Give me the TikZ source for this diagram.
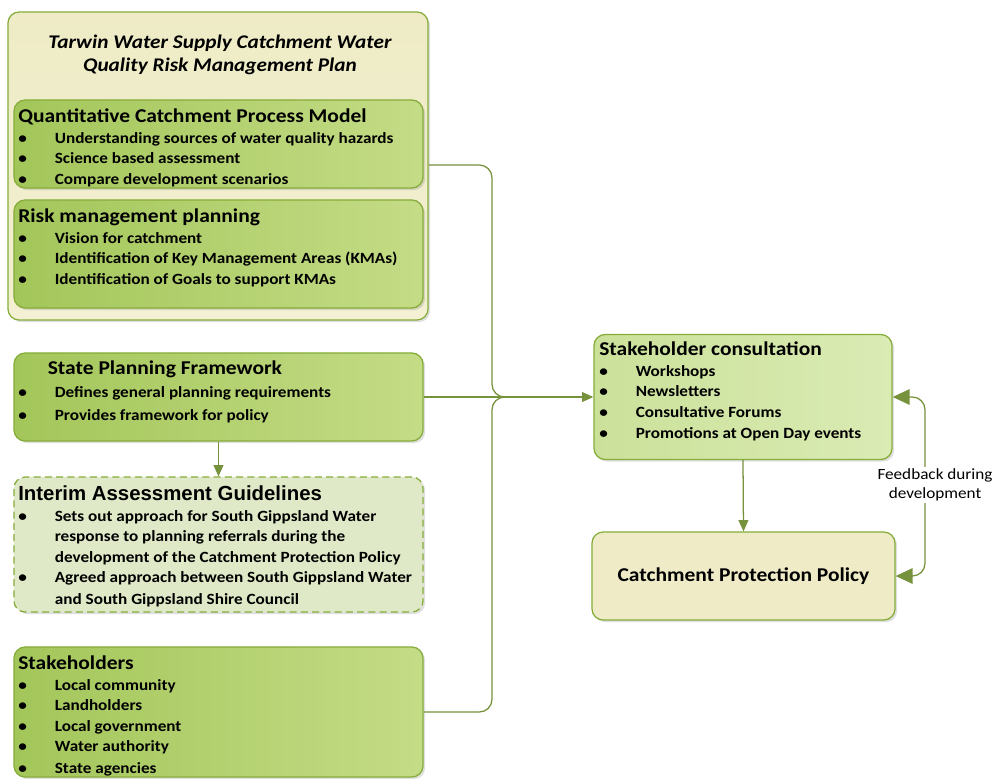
\documentclass[tikz,border=0pt]{standalone}
\usepackage{fontspec}
\setmainfont[FakeStretch=1.1]{Carlito}
\newfontfamily\arialfont{Liberation Sans}
\usetikzlibrary{positioning,calc,arrows.meta,shadows}
\definecolor{linegreen}{HTML}{76923C}
\definecolor{boxedge}{HTML}{86AD3A}
\definecolor{greendark}{HTML}{A3C65A}
\definecolor{greenlight}{HTML}{C4DC86}
\definecolor{palegreen}{HTML}{DFE9C7}
\definecolor{softgreen}{HTML}{CBE19A}
\definecolor{softgreenlight}{HTML}{DAEBB4}
\definecolor{beige}{HTML}{EEEBC6}
\definecolor{beigelight}{HTML}{F3F0D3}

% bullet lines
\newcommand{\head}[1]{{\fontsize{13.9}{16}\selectfont #1}}
\newcommand{\bul}[1]{\makebox[26pt][l]{\textbullet}#1}
\newcommand{\cont}[1]{\hspace*{26pt}#1}

\begin{document}
\begin{tikzpicture}[x=0.025cm, y=-0.025cm,
  box/.style={draw=boxedge, line width=0.9pt, rounded corners=8pt, inner sep=0pt,
    drop shadow={opacity=0.25, shadow xshift=1.5pt, shadow yshift=-1.5pt}},
  planbox/.style={box, top color=beige, bottom color=beigelight},
  greenbox/.style={box, left color=greendark, right color=greenlight},
  dashbox/.style={box, dashed, dash pattern=on 5pt off 3pt, fill=palegreen},
  consultbox/.style={box, left color=softgreen, right color=softgreenlight},
  policybox/.style={box, fill=beige},
  listtext/.style={anchor=north west, inner sep=0pt, align=left,
    font=\fontsize{11.1}{14.4}\selectfont\bfseries},
  link/.style={draw=linegreen, line width=0.9pt},
  tip/.style={-{Triangle[length=8pt, width=7pt]}},
  bigtip/.style={{Triangle[length=12pt, width=11pt]}-{Triangle[length=12pt, width=11pt]}}]

  \useasboundingbox (0,0) rectangle (995,778);

  % Risk management plan and its two parts
  \node[planbox, minimum width=10.5cm, minimum height=7.7cm] (plan) at (218,166) {};
  \node[align=center, font=\fontsize{13.75}{16.5}\selectfont\bfseries\itshape] (plantitle) at (220,55)
    {Tarwin Water Supply Catchment Water\\Quality Risk Management Plan};

  \node[greenbox, minimum width=10.225cm, minimum height=2.2cm] (qcpm) at (218.5,144) {};
  \node[listtext] (qcpmtext) at (18,108) {%
    \head{Quantitative Catchment Process Model}\\[1pt]
    \bul{Understanding sources of water quality hazards}\\
    \bul{Science based assessment}\\
    \bul{Compare development scenarios}};

  \node[greenbox, minimum width=10.225cm, minimum height=2.7cm] (rmp) at (218.5,254) {};
  \node[listtext] (rmptext) at (18,208) {%
    \head{Risk management planning}\\[1pt]
    \bul{Vision for catchment}\\
    \bul{Identification of Key Management Areas (KMAs)}\\
    \bul{Identification of Goals to support KMAs}};

  % State planning framework
  \node[greenbox, minimum width=10.225cm, minimum height=2.2cm] (spf) at (218.5,397) {};
  \node[listtext] (spftext) at (18,360) {%
    \hspace*{21pt}\head{State Planning Framework}\\[2pt]
    \bul{Defines general planning requirements}\\[2pt]
    \bul{Provides framework for policy}};

  % Interim guidelines (dashed)
  \node[dashbox, minimum width=10.225cm, minimum height=3.375cm] (iag) at (218.5,544.5) {};
  \node[listtext] (iagtext) at (18,485) {%
    {\arialfont\fontsize{14.5}{15}\selectfont Interim Assessment Guidelines}\\[1pt]
    \bul{Sets out approach for South Gippsland Water}\\
    \cont{response to planning referrals during the}\\
    \cont{development of the Catchment Protection Policy}\\
    \bul{Agreed approach between South Gippsland Water}\\[1pt]
    \cont{and South Gippsland Shire Council}};

  % Stakeholders
  \node[greenbox, minimum width=10.225cm, minimum height=3.25cm] (stk) at (218.5,712) {};
  \node[listtext] (stktext) at (18,655) {%
    \head{Stakeholders}\\[1pt]
    \bul{Local community}\\
    \bul{Landholders}\\
    \bul{Local government}\\
    \bul{Water authority}\\[1pt]
    \bul{State agencies}};

  % Consultation and policy
  \node[consultbox, minimum width=7.45cm, minimum height=3.125cm] (sc) at (743,397) {};
  \node[listtext] (sctext) at (599,341) {%
    \head{Stakeholder consultation}\\[1pt]
    \bul{Workshops}\\
    \bul{Newsletters}\\
    \bul{Consultative Forums}\\[1pt]
    \bul{Promotions at Open Day events}};

  \node[policybox, minimum width=7.575cm, minimum height=2.2cm,
    font=\fontsize{13.9}{16}\selectfont\bfseries] (cpp) at (743.5,576) {Catchment Protection Policy};

  % Connectors into the consultation box
  \coordinate (qout) at (plan.east |- 0,165);
  \coordinate (join) at (492,397);
  \draw[link, rounded corners=9pt] (qout) -- (join |- qout) -- (join) -- ++(20,0);
  \draw[link, rounded corners=9pt] (stk.east) -- (join |- stk.east) -- (join) -- ++(20,0);
  \draw[link, tip] (spf.east) -- (sc.west);
  \draw[link, tip] (spf.south) -- (iag.north);
  \draw[link, tip] (sc.south) -- (cpp.north);

  % Feedback loop
  \coordinate (fb) at (925,397);
  \draw[link, bigtip, rounded corners=9pt] (sc.east) -- (fb) -- (fb |- cpp.east) -- (cpp.east);
  \node[fill=white, inner sep=1pt, align=center, font=\fontsize{11.1}{13.5}\selectfont]
    (fblabel) at (935,485) {Feedback during\\development};
\end{tikzpicture}
\end{document}
